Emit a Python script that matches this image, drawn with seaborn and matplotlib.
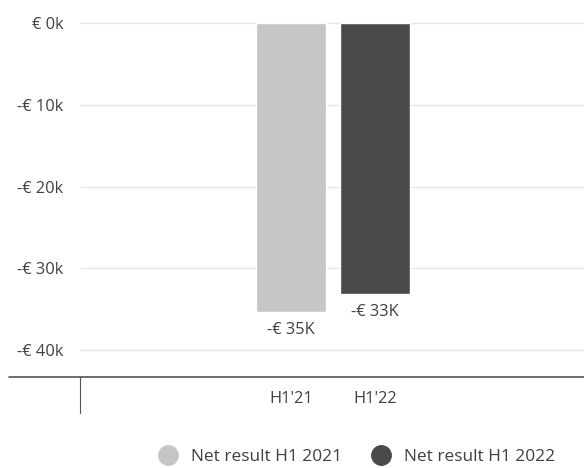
import matplotlib
matplotlib.use("Agg")
import matplotlib.pyplot as plt
from matplotlib.lines import Line2D
import seaborn as sns
import pandas as pd

categories = ["H1'21", "H1'22"]
values = [-35.4, -33.2]
bar_labels = ["-€ 35K", "-€ 33K"]
series_names = ["Net result H1 2021", "Net result H1 2022"]
colors = ["#c8c6c4", "#4a4a4a"]
yticks = [0, -10, -20, -30, -40]
ytick_labels = ["€ 0k", "-€ 10k", "-€ 20k", "-€ 30k", "-€ 40k"]

sns.set_style("white")
plt.rcParams["font.family"] = ["Open Sans", "DejaVu Sans"]
text_color = "#404040"

df = pd.DataFrame({"period": categories, "value": values})

fig = plt.figure(figsize=(5.84, 4.68), dpi=100)
ax = fig.add_axes([80 / 584, 1 - 377 / 468, 504 / 584, (377 - 19) / 468])

sns.barplot(data=df, x="period", y="value", hue="period",
            palette=colors, width=0.83, legend=False, ax=ax, zorder=3)

ax.set_ylim(-43.3, 0.5)
ax.set_xlim(-2.51, 3.49)
ax.set_yticks(yticks)
ax.set_yticklabels(ytick_labels)
ax.yaxis.grid(True, color="#e6e6e6", linewidth=1, zorder=0)
ax.tick_params(axis="y", length=0, pad=12, labelsize=11.8, labelcolor=text_color)
ax.tick_params(axis="x", length=0, pad=10, labelsize=11.8, labelcolor=text_color)
ax.set_xlabel("")
ax.set_ylabel("")
for s in ax.spines.values():
    s.set_visible(False)

for patch, lab in zip(ax.patches, bar_labels):
    ax.annotate(lab, (patch.get_x() + patch.get_width() / 2, patch.get_y() + patch.get_height()),
                xytext=(0, -7), textcoords="offset points",
                ha="center", va="top", fontsize=11.8, color=text_color)

# axis line and small divider below the chart
fig.add_artist(Line2D([9 / 584, 1.0], [1 - 377 / 468] * 2, color="#555555", lw=1.2))
fig.add_artist(Line2D([80 / 584] * 2, [1 - 377 / 468, 1 - 413 / 468], color="#555555", lw=0.8))

handles = [Line2D([], [], marker="o", linestyle="", markersize=14,
                  markerfacecolor=c, markeredgecolor=c) for c in colors]
fig.legend(handles, series_names, loc="center", ncol=2, frameon=False,
           bbox_to_anchor=(353 / 584, 1 - 457 / 468), fontsize=12.4,
           labelcolor=text_color, handletextpad=0.3, columnspacing=1.3)

plt.savefig("out.png", dpi=100)
plt.close()
